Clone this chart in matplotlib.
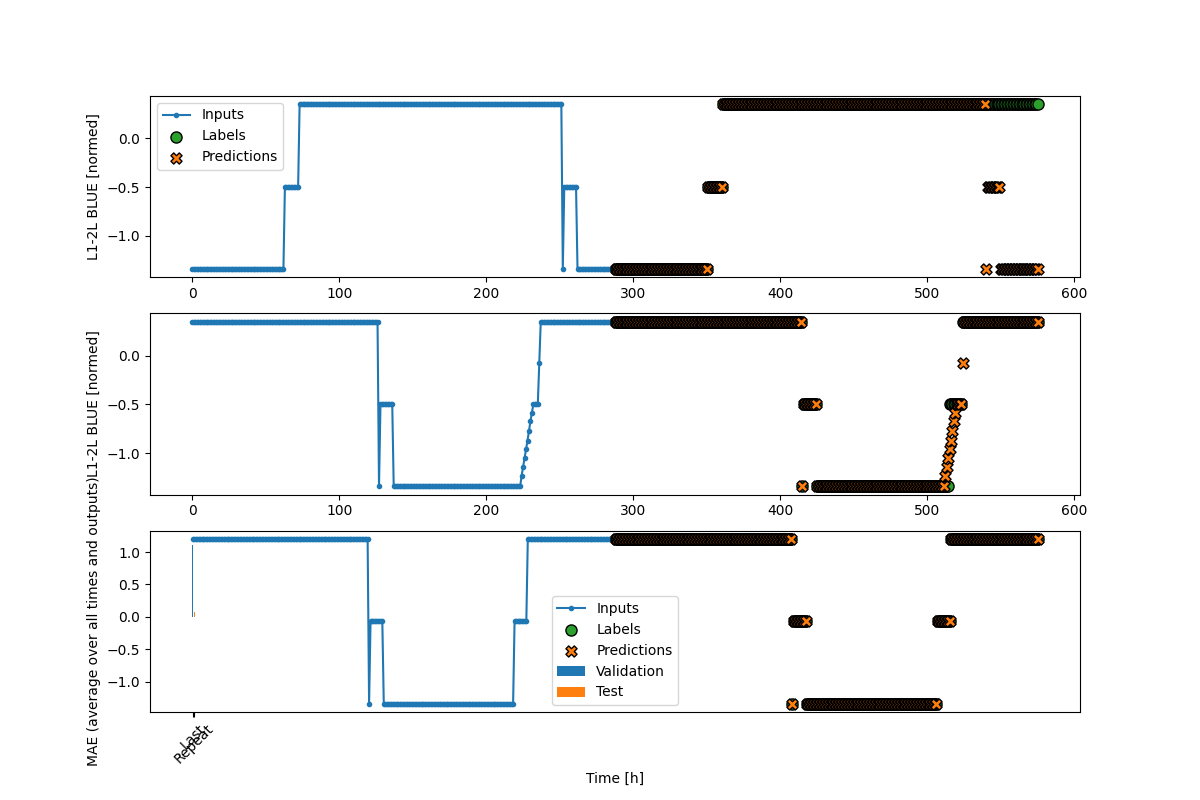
import matplotlib.pyplot as plt
import numpy as np

# runs of (value, count), 288 steps per window
inputs_1 = [(-1.34, 63), (-0.495, 10), (0.35, 179), (-1.34, 1), (-0.495, 9), (-1.34, 26)]
labels_1 = [(-1.34, 63), (-0.495, 10), (0.35, 215)]
preds_1 = inputs_1

inputs_2 = [(0.35, 127), (-1.34, 1), (-0.495, 9), (-1.34, 87),
            (-1.23, 1), (-1.14, 1), (-1.05, 1), (-0.96, 1), (-0.87, 1), (-0.77, 1), (-0.67, 1), (-0.585, 1),
            (-0.495, 4), (-0.07, 1), (0.35, 51)]
labels_2 = [(0.35, 127), (-1.34, 1), (-0.495, 9), (-1.34, 90), (-0.495, 9), (0.35, 52)]
preds_2 = inputs_2

inputs_3 = [(1.2, 120), (-1.343, 1), (-0.066, 9), (-1.343, 89), (-0.066, 9), (1.2, 60)]
labels_3 = inputs_3
preds_3 = inputs_3

models = ['Last', 'Repeat']
val_mae = [1.11, 0.05]
test_mae = [0.04, 0.07]

input_idx = np.arange(288)
label_idx = np.arange(288, 576)


def expand(runs):
    return np.concatenate([np.full(n, v) for v, n in runs])


examples = [(inputs_1, labels_1, preds_1),
            (inputs_2, labels_2, preds_2),
            (inputs_3, labels_3, preds_3)]

plt.figure(figsize=(12, 8))
for n, (inp, lab, pred) in enumerate(examples):
    plt.subplot(3, 1, n + 1)
    plt.ylabel('L1-2L BLUE [normed]')
    plt.plot(input_idx, expand(inp), label='Inputs', marker='.', zorder=-10)
    plt.scatter(label_idx, expand(lab), edgecolors='k', label='Labels', c='#2ca02c', s=64)
    plt.scatter(label_idx, expand(pred), marker='X', edgecolors='k',
                label='Predictions', c='#ff7f0e', s=64)
    if n == 0:
        plt.legend()
plt.xlabel('Time [h]')

# MAE bars end up on the last axes
x = np.arange(len(models))
width = 0.3
plt.ylabel('MAE (average over all times and outputs)')
plt.bar(x - 0.17, val_mae, width, label='Validation')
plt.bar(x + 0.17, test_mae, width, label='Test')
plt.xticks(ticks=x, labels=models, rotation=45)
plt.legend(loc='lower center')

plt.savefig('out.png', dpi=100)
